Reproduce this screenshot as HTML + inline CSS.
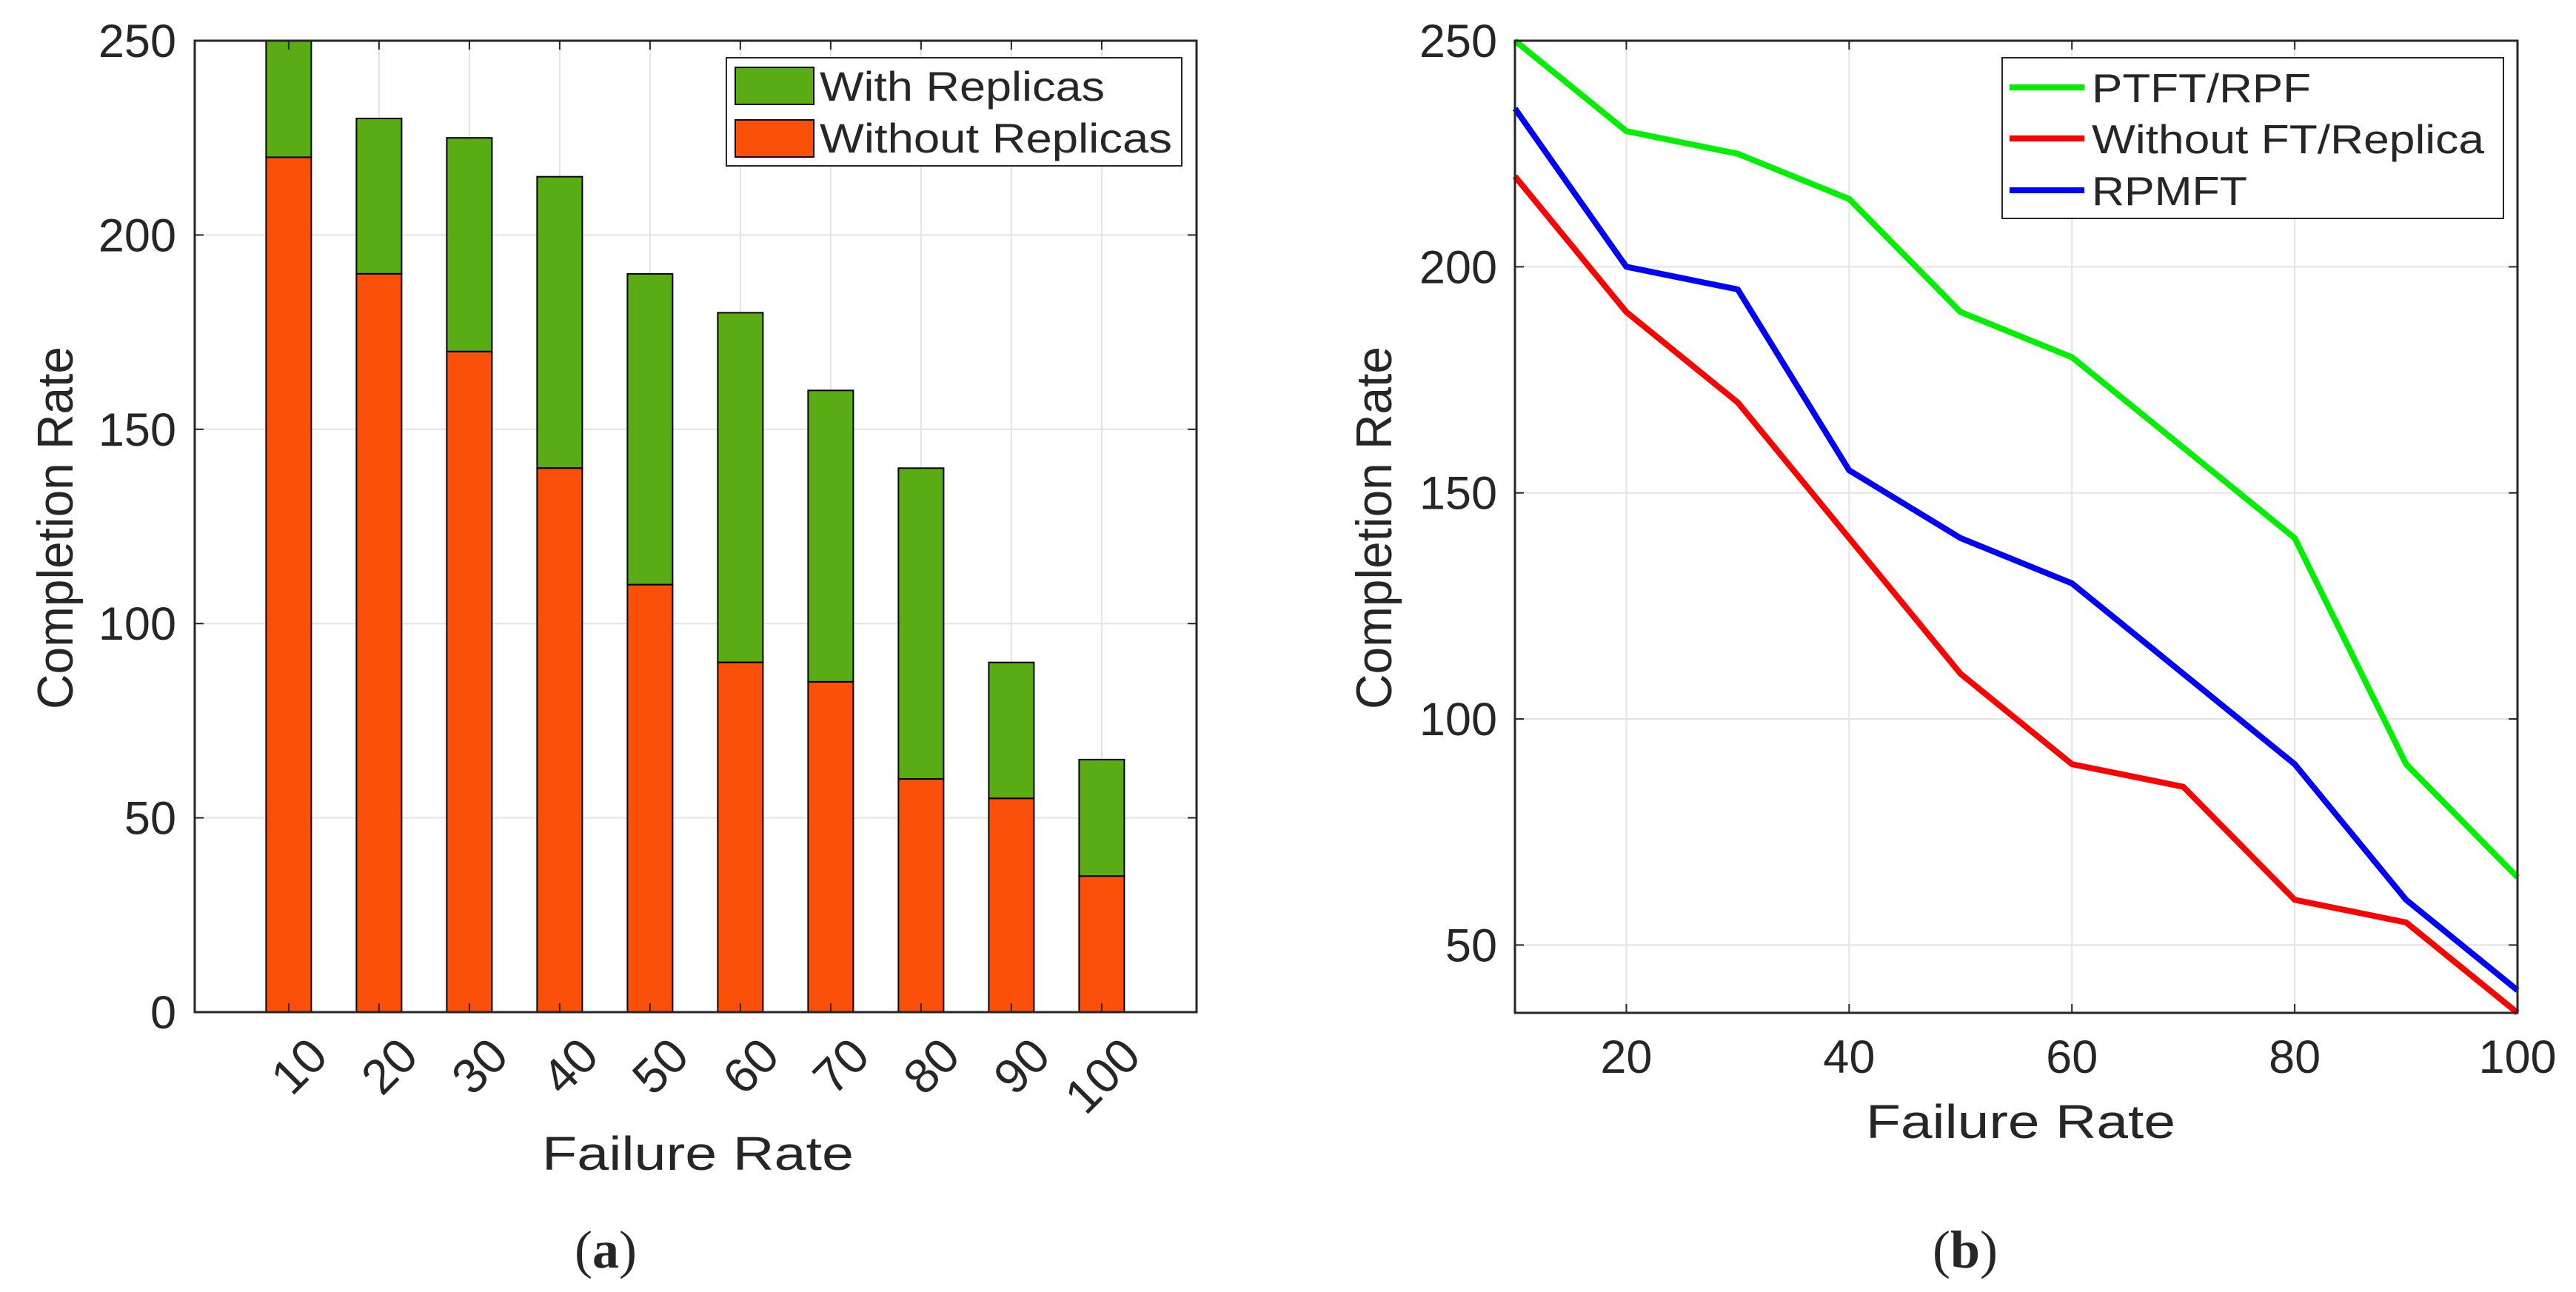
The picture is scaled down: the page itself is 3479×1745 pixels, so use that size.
<!DOCTYPE html>
<html><head><meta charset="utf-8"><style>
html,body{margin:0;padding:0;background:#fff}
svg{display:block}
text{font-family:"Liberation Sans",Arial,sans-serif;fill:#262626}
</style></head><body>
<svg id="fig" width="3479" height="1745" viewBox="0 0 3479 1745" xmlns="http://www.w3.org/2000/svg">
<g id="chartA"></g>
<g id="chartB"></g>
</svg>
<script>
const categories = [10,20,30,40,50,60,70,80,90,100];
const withoutReplicas = [220,190,170,140,110,90,85,60,55,35];
const withReplicas = [250,230,225,215,190,180,160,140,90,65];
const yTicksA = [0,50,100,150,200,250];

const lineX = [10,20,30,40,50,60,70,80,90,100];
const ptftRpf = [250,230,225,215,190,180,160,140,90,65];
const withoutFt = [220,190,170,140,110,90,85,60,55,35];
const rpmft = [235,200,195,155,140,130,110,90,60,40];
const xTicksB = [20,40,60,80,100];
const yTicksB = [50,100,150,200,250];

const NS='http://www.w3.org/2000/svg';
function mk(parent,tag,attrs,txt){const e=document.createElementNS(NS,tag);for(const k in attrs)e.setAttribute(k,attrs[k]);if(txt!==undefined)e.textContent=txt;parent.appendChild(e);return e;}

// ---------- Chart A ----------
(function(){
const g=document.getElementById('chartA');
const L=263,R=1616,T=55,B=1367;
const xA=i=>L+(i+0.04)/(11.09)*(R-L);
const yA=v=>B-(v/250)*(B-T);
for(const v of yTicksA){const y=yA(v);
 const gl=mk(g,'line',{x1:L,x2:R,y1:y,y2:y,stroke:'#e3e3e3','stroke-width':2});
 
 const t=mk(g,'text',{x:238,y:y+22,'text-anchor':'end','font-size':63},v);
 
 mk(g,'line',{x1:L,x2:L+12,y1:y,y2:y,stroke:'#262626','stroke-width':2});
 mk(g,'line',{x1:R,x2:R-12,y1:y,y2:y,stroke:'#262626','stroke-width':2});
}
categories.forEach((c,i)=>{const x=xA(i+1);
 const gl=mk(g,'line',{x1:x,x2:x,y1:T,y2:B,stroke:'#e3e3e3','stroke-width':2});
 
});
const bw=61;
categories.forEach((c,i)=>{const x=xA(i+1);
 const g1=mk(g,'rect',{x:x-bw/2,y:yA(withReplicas[i]),width:bw,height:yA(withoutReplicas[i])-yA(withReplicas[i]),fill:'#5aac14',stroke:'#000','stroke-width':2});
 
 const r1=mk(g,'rect',{x:x-bw/2,y:yA(withoutReplicas[i]),width:bw,height:B-yA(withoutReplicas[i]),fill:'#fb500a',stroke:'#000','stroke-width':2});
 
 mk(g,'line',{x1:x,x2:x,y1:T,y2:T+12,stroke:'#262626','stroke-width':2});
 mk(g,'line',{x1:x,x2:x,y1:B,y2:B-12,stroke:'#262626','stroke-width':2});
 const t=mk(g,'text',{x:x+22,y:1396,'text-anchor':'end','font-size':66,transform:`rotate(-45 ${x+22} 1396)`,'dominant-baseline':'hanging'},c);
 
});
const fr=mk(g,'rect',{x:L,y:T,width:R-L,height:B-T,fill:'none',stroke:'#262626','stroke-width':3});

const lg=mk(g,'g',{});

mk(lg,'rect',{x:981,y:78,width:615,height:146,fill:'#fff',stroke:'#262626','stroke-width':2});
mk(lg,'rect',{x:993,y:91,width:106,height:50,fill:'#5aac14',stroke:'#000','stroke-width':2});
mk(lg,'rect',{x:993,y:162,width:106,height:50,fill:'#fb500a',stroke:'#000','stroke-width':2});
const l1=mk(lg,'text',{x:1107,y:136,'font-size':56,fill:'#000',textLength:385,lengthAdjust:'spacingAndGlyphs'},'With Replicas');

const l2=mk(lg,'text',{x:1107,y:206,'font-size':56,fill:'#000',textLength:476,lengthAdjust:'spacingAndGlyphs'},'Without Replicas');

const xt=mk(g,'text',{x:732,y:1580,'font-size':64,textLength:421,lengthAdjust:'spacingAndGlyphs'},'Failure Rate');

const yt=mk(g,'text',{x:98,y:958,'font-size':68,textLength:490,lengthAdjust:'spacingAndGlyphs',transform:'rotate(-90 98 958)'},'Completion Rate');

const cap=mk(g,'text',{x:818,y:1712,'text-anchor':'middle','font-size':72,style:'font-family:"Liberation Serif",serif',fill:'#000'});

cap.innerHTML='(<tspan font-weight="bold">a</tspan>)';
})();

// ---------- Chart B ----------
(function(){
const g=document.getElementById('chartB');
const L=2046,R=3400,T=55,B=1368;
const xB=v=>L+(v-10)/90*(R-L);
const yB=v=>B-(v-35)/215*(B-T);
for(const v of yTicksB){const y=yB(v);
 const gl=mk(g,'line',{x1:L,x2:R,y1:y,y2:y,stroke:'#e3e3e3','stroke-width':2});
 
 const t=mk(g,'text',{x:2022,y:y+22,'text-anchor':'end','font-size':63},v);
 
 mk(g,'line',{x1:L,x2:L+12,y1:y,y2:y,stroke:'#262626','stroke-width':2});
 mk(g,'line',{x1:R,x2:R-12,y1:y,y2:y,stroke:'#262626','stroke-width':2});
}
for(const v of xTicksB){const x=xB(v);
 const gl=mk(g,'line',{x1:x,x2:x,y1:T,y2:B,stroke:'#e3e3e3','stroke-width':2});
 
 mk(g,'line',{x1:x,x2:x,y1:T,y2:T+12,stroke:'#262626','stroke-width':2});
 mk(g,'line',{x1:x,x2:x,y1:B,y2:B-12,stroke:'#262626','stroke-width':2});
 const t=mk(g,'text',{x:x,y:1449,'text-anchor':'middle','font-size':63},v);
 
}
const series=[[ptftRpf,'#00ee00','line-ptft-rpf'],[withoutFt,'#ff0000','line-without-ft-replica'],[rpmft,'#0000ff','line-rpmft']];
for(const [d,col,nm] of series){
 const pts=d.map((v,i)=>xB(lineX[i])+','+yB(v)).join(' ');
 const p=mk(g,'polyline',{points:pts,fill:'none',stroke:col,'stroke-width':8,'stroke-linejoin':'round'});
 
}
const fr=mk(g,'rect',{x:L,y:T,width:R-L,height:B-T,fill:'none',stroke:'#262626','stroke-width':3});

const lg=mk(g,'g',{});

mk(lg,'rect',{x:2704,y:78,width:677,height:217,fill:'#fff',stroke:'#262626','stroke-width':2});
const names=['PTFT/RPF','Without FT/Replica','RPMFT'];const lens=[296,530,210];const cols=['#00ee00','#ff0000','#0000ff'];const ys=[118,187,257];
names.forEach((n,i)=>{
 mk(lg,'line',{x1:2714,x2:2815,y1:ys[i],y2:ys[i],stroke:cols[i],'stroke-width':8});
 const t=mk(lg,'text',{x:2825,y:ys[i]+20,'font-size':55,fill:'#000',textLength:lens[i],lengthAdjust:'spacingAndGlyphs'},n);
 
});
const xt=mk(g,'text',{x:2520,y:1537,'font-size':64,textLength:418,lengthAdjust:'spacingAndGlyphs'},'Failure Rate');

const yt=mk(g,'text',{x:1879,y:958,'font-size':68,textLength:490,lengthAdjust:'spacingAndGlyphs',transform:'rotate(-90 1879 958)'},'Completion Rate');

const cap=mk(g,'text',{x:2654,y:1712,'text-anchor':'middle','font-size':72,style:'font-family:"Liberation Serif",serif',fill:'#000'});

cap.innerHTML='(<tspan font-weight="bold">b</tspan>)';
})();
</script>
</body></html>
